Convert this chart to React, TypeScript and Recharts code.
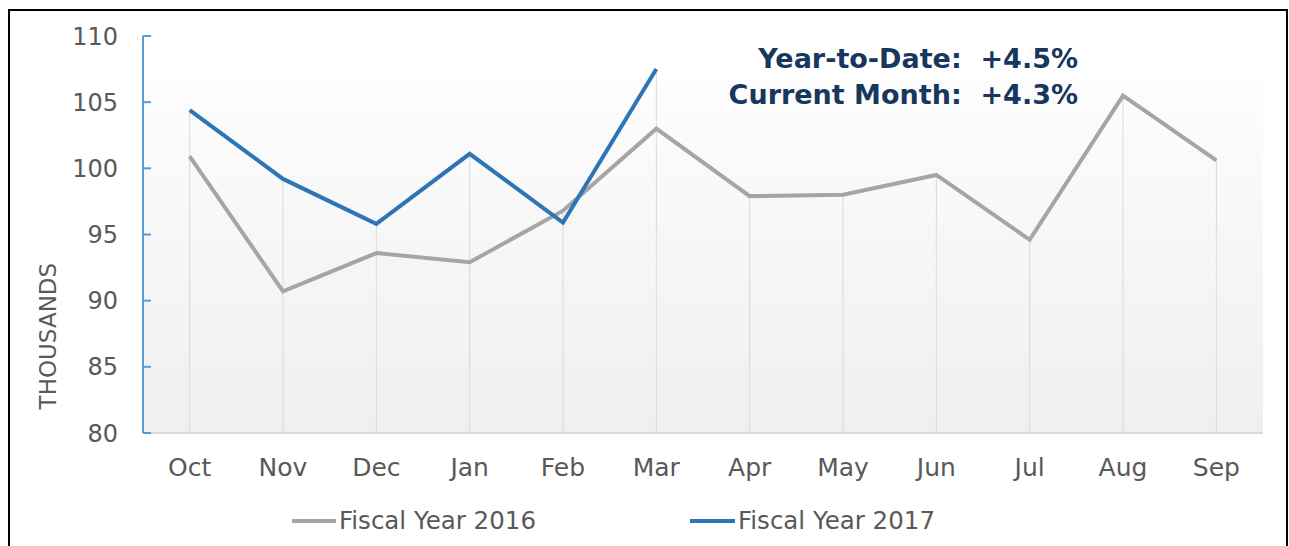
import React from 'react';
import { LineChart, Line, XAxis, YAxis, ReferenceLine, ReferenceArea } from 'recharts';

const months = ['Oct', 'Nov', 'Dec', 'Jan', 'Feb', 'Mar', 'Apr', 'May', 'Jun', 'Jul', 'Aug', 'Sep'];
const fy2016 = [100.9, 90.7, 93.6, 92.9, 96.8, 103.0, 97.9, 98.0, 99.5, 94.6, 105.5, 100.6];
const fy2017 = [104.4, 99.2, 95.8, 101.1, 95.9, 107.5, null, null, null, null, null, null];
const yTicks = [80, 85, 90, 95, 100, 105, 110];
const ytdText = 'Year-to-Date:  +4.5%';
const monthText = 'Current Month:  +4.3%';

const data = months.map((m, i) => ({ month: m, fy2016: fy2016[i], fy2017: fy2017[i] }));

const FONT = '"DejaVu Sans", sans-serif';
const GREY = '#a5a5a5';
const BLUE = '#2e75b6';
const TEXT = '#595959';

const AxisTitle = (props: any) => {
    const { viewBox } = props;
    const cx = viewBox.x + 5;
    const cy = viewBox.y + viewBox.height * 0.756;
    return (
        <text
            x={cx}
            y={cy}
            transform={`rotate(-90 ${cx} ${cy})`}
            textAnchor="middle"
            dominantBaseline="central"
            fill={TEXT}
            fontSize={23}
            fontFamily={FONT}
        >
            THOUSANDS
        </text>
    );
};

export default function App() {
    return (
        <div style={{ position: 'absolute', left: 0, top: 0, width: 1289, height: 546, background: '#fff', overflow: 'hidden', fontFamily: FONT }}>
            <div style={{ position: 'absolute', left: 8, top: 9, width: 1276, height: 600, border: '2px solid #000' }} />

            <LineChart
                width={1289}
                height={546}
                data={data}
                margin={{ top: 36, right: 26, bottom: 53, left: 43 }}
                style={{ position: 'absolute', left: 0, top: 0 }}
            >
                <defs>
                    <linearGradient id="plotBg" x1="0" y1="0" x2="0" y2="1">
                        <stop offset="0%" stopColor="#fdfdfd" />
                        <stop offset="100%" stopColor="#efefef" />
                    </linearGradient>
                </defs>
                <ReferenceArea y1={80} y2={106.7} fill="url(#plotBg)" fillOpacity={1} stroke="none" />

                {months.map((m, i) => (
                    <ReferenceLine
                        key={m}
                        segment={[
                            { x: m, y: Math.max(fy2016[i], fy2017[i] ?? 0) },
                            { x: m, y: 80 },
                        ]}
                        stroke="#d9d9d9"
                        strokeWidth={1}
                    />
                ))}

                <XAxis
                    dataKey="month"
                    scale="band"
                    axisLine={{ stroke: '#d9d9d9', strokeWidth: 2 }}
                    tickLine={false}
                    tickSize={0}
                    tickMargin={25}
                    height={60}
                    tick={{ fill: TEXT, fontSize: 25, fontFamily: FONT }}
                    interval={0}
                />
                <YAxis
                    domain={[80, 110]}
                    ticks={yTicks}
                    width={100}
                    axisLine={{ stroke: '#5b9bd5', strokeWidth: 2 }}
                    tickLine={{ stroke: '#5b9bd5', strokeWidth: 2 }}
                    tickSize={-8}
                    tickMargin={33}
                    tick={{ fill: TEXT, fontSize: 24, fontFamily: FONT }}
                    label={<AxisTitle />}
                />

                <Line
                    type="linear"
                    dataKey="fy2016"
                    stroke={GREY}
                    strokeWidth={4}
                    dot={false}
                    isAnimationActive={false}
                />
                <Line
                    type="linear"
                    dataKey="fy2017"
                    stroke={BLUE}
                    strokeWidth={4}
                    dot={false}
                    connectNulls={false}
                    isAnimationActive={false}
                />
            </LineChart>

            <div style={{ position: 'absolute', right: 1289 - 1078, top: 41, textAlign: 'right', color: '#17375e', fontWeight: 'bold', fontSize: 27, lineHeight: '36px', whiteSpace: 'pre' }}>
                <div>{ytdText}</div>
                <div>{monthText}</div>
            </div>

            <div style={{ position: 'absolute', left: 292, top: 506, display: 'flex', alignItems: 'center', color: TEXT, fontSize: 24.5 }}>
                <span style={{ display: 'inline-block', width: 44, height: 4, background: GREY, marginRight: 3 }} />
                <span>Fiscal Year 2016</span>
            </div>
            <div style={{ position: 'absolute', left: 690, top: 506, display: 'flex', alignItems: 'center', color: TEXT, fontSize: 24.5 }}>
                <span style={{ display: 'inline-block', width: 45, height: 4, background: BLUE, marginRight: 3 }} />
                <span>Fiscal Year 2017</span>
            </div>
        </div>
    );
}
